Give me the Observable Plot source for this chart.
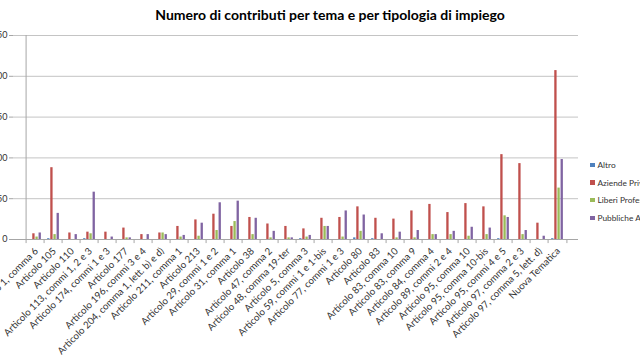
<!DOCTYPE html>
<html>
<head>
<meta charset="utf-8">
<script src="https://cdn.jsdelivr.net/npm/d3@7"></script>
<script src="https://cdn.jsdelivr.net/npm/@observablehq/plot@0.6"></script>
<style>
  html, body { margin: 0; padding: 0; background: #fff; overflow: hidden; width: 640px; height: 360px; }
  #wrap { position: relative; width: 640px; height: 360px; font-family: Lato, "Open Sans", sans-serif; }
  #title { position: absolute; left: 0; top: 6px; width: 660px; text-align: center; font-weight: bold; font-size: 14px; color: #000; white-space: nowrap; }
  #legend { position: absolute; left: 590px; top: 159px; font-size: 8.3px; color: #333; white-space: nowrap; }
  #legend div { height: 17.7px; line-height: 13px; }
  #legend span.sw { display: inline-block; width: 4.5px; height: 4.5px; margin-right: 3px; vertical-align: 1px; }
</style>
</head>
<body>
<div id="wrap">
  <div id="title">Numero di contributi per tema e per tipologia di impiego</div>
  <div id="chart"></div>
  <div id="legend"></div>
</div>
<script>
const categories = [
  "Articolo 1, comma 6", "Articolo 105", "Articolo 110", "Articolo 113, commi 1, 2 e 3",
  "Articolo 174, commi 1 e 3", "Articolo 177", "Articolo 196, commi 3 e 4",
  "Articolo 204, comma 1, lett. b) e d)", "Articolo 211, comma 1", "Articolo 213",
  "Articolo 29, commi 1 e 2", "Articolo 31, comma 1", "Articolo 38", "Articolo 47, comma 2",
  "Articolo 48, comma 19-ter", "Articolo 5, comma 3", "Articolo 59, commi 1 e 1-bis",
  "Articolo 77, commi 1 e 3", "Articolo 80", "Articolo 83", "Articolo 83, comma 10",
  "Articolo 83, comma 9", "Articolo 84, comma 4", "Articolo 89, commi 2 e 4",
  "Articolo 95, comma 10", "Articolo 95, comma 10-bis", "Articolo 95, commi 4 e 5",
  "Articolo 97, comma 2 e 3", "Articolo 97, comma 5, lett. d)", "Nuova Tematica"
];
const seriesNames = ["Altro", "Aziende Private", "Liberi Professionisti", "Pubbliche Amministrazioni"];
const seriesColors = ["#4F81BD", "#C0504D", "#9BBB59", "#8064A2"];
const altro     = [0,1,0,1,0,0,0,0,0,0, 0,0,0,0,0,1,0,0,2,1, 0,0,0,0,0,0,1,0,0,1];
const aziende   = [7,88,8,9,9,14,6,8,16,24, 31,16,27,19,16,13,26,27,40,26, 25,35,43,33,44,40,104,93,20,207];
const liberi    = [3,6,0,7,0,2,0,8,3,4, 11,22,6,2,2,3,16,3,10,0, 2,2,6,6,4,6,29,6,0,63];
const pubbliche = [8,32,6,58,3,2,6,6,5,20, 45,47,26,10,2,5,16,35,30,7, 9,11,6,10,15,14,27,11,4,98];
const yTicks = [0, 50, 100, 150, 200, 250];

const seriesValues = [altro, aziende, liberi, pubbliche];

const W = 640, H = 360;
const mL = 13, mR = 62, mT = 35, mB = 121;
const step = (W - mL - mR) / categories.length;
const barW = 3.15;
const groupW = barW * seriesNames.length;
const off0 = (step - groupW) / 2;

const barMarks = seriesNames.map((name, j) => {
  const data = categories.map((c, i) => ({cat: c, value: seriesValues[j][i]}));
  return Plot.barY(data, {
    x: "cat", y: "value", fill: seriesColors[j],
    insetLeft: off0 + barW * j,
    insetRight: step - (off0 + barW * (j + 1))
  });
});

const chart = Plot.plot({
  width: W, height: H,
  marginLeft: mL, marginRight: mR, marginTop: mT, marginBottom: mB,
  style: {fontFamily: "Lato, 'Open Sans', sans-serif", fontSize: "9px", color: "#333", background: "transparent", overflow: "visible"},
  x: {domain: categories, padding: 0, axis: null},
  y: {domain: [0, 250], axis: null},
  marks: [
    Plot.ruleY(yTicks.slice(1), {stroke: "#C4C4C4", strokeWidth: 1}),
    ...barMarks,
    Plot.ruleY([0], {stroke: "#A6A6A6", strokeWidth: 1}),
    Plot.ruleX([categories[0]], {dx: -step / 2, y1: 0, y2: 250, stroke: "#A6A6A6"}),
    Plot.ruleX(categories, {x: d => d, y1: 0, y2: -5, dx: -step / 2, stroke: "#A6A6A6"}),
    Plot.ruleX([categories[categories.length - 1]], {x: d => d, y1: 0, y2: -5, dx: step / 2, stroke: "#A6A6A6"}),
    Plot.axisY({ticks: yTicks, tickSize: 4, tickPadding: 2, stroke: "#A6A6A6", fill: "#333", fontSize: 9, label: null}),
    Plot.axisX({tickRotate: -45, tickSize: 0, tickPadding: 10, dx: 1, fontSize: 9.7, fill: "#333", label: null})
  ]
});
document.getElementById("chart").appendChild(chart);

const legend = document.getElementById("legend");
seriesNames.forEach((name, j) => {
  const row = document.createElement("div");
  const sw = document.createElement("span");
  sw.className = "sw";
  sw.style.background = seriesColors[j];
  row.appendChild(sw);
  row.appendChild(document.createTextNode(name));
  legend.appendChild(row);
});
</script>
</body>
</html>
